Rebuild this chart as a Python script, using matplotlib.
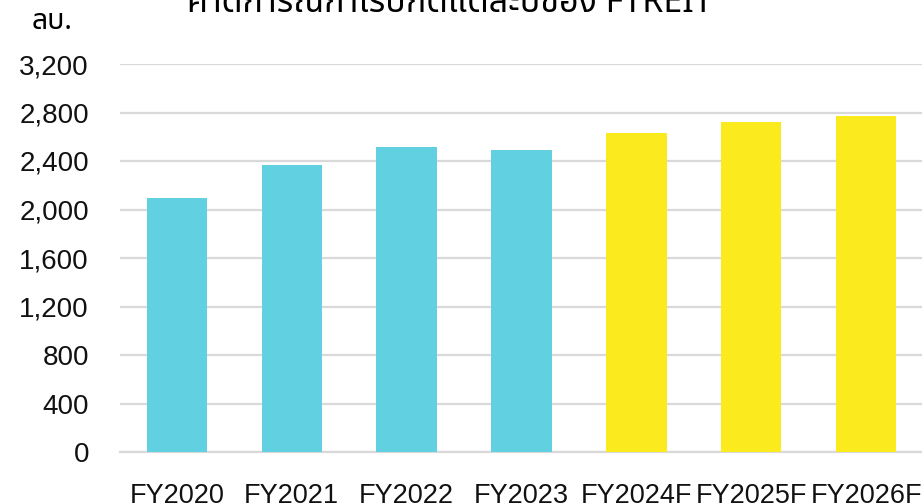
import matplotlib
matplotlib.use("Agg")
import matplotlib.pyplot as plt
from matplotlib import font_manager
from matplotlib.ft2font import FT2Font

years = ["FY2020", "FY2021", "FY2022", "FY2023", "FY2024F", "FY2025F", "FY2026F"]
profit = [2095, 2367, 2515, 2491, 2631, 2722, 2771]
is_forecast = [False, False, False, False, True, True, True]
y_ticks = [0, 400, 800, 1200, 1600, 2000, 2400, 2800, 3200]

title_text = "คาดการณ์กำไรปกติแต่ละปีของ FTREIT"
unit_text = "ลบ."

PREFERRED = ["Noto Sans Thai", "Noto Sans Thai UI", "Loma", "Garuda", "Waree",
             "Umpush", "Sawasdee", "Kinnari", "Norasi", "Laksaman"]


def find_thai_font():
    # collect installed fonts that have Thai glyphs, prefer proportional sans ones
    found = []
    for path in font_manager.findSystemFonts():
        try:
            cmap = FT2Font(path).get_charmap()
        except Exception:
            continue
        if ord("ก") in cmap and ord("ณ") in cmap:
            try:
                found.append(font_manager.FontProperties(fname=path).get_name())
            except Exception:
                continue
    for name in PREFERRED:
        if name in found:
            return name
    for name in found:
        low = name.lower()
        if "mono" not in low and "typist" not in low and "typo" not in low:
            return name
    return found[0] if found else None


thai = find_thai_font()
families = ([thai] if thai else []) + ["DejaVu Sans"]
plt.rcParams["font.family"] = families

fig = plt.figure(figsize=(9.22, 5.04), dpi=100)
ax = fig.add_axes([119.5 / 922, (504 - 452) / 504, 804 / 922, 388 / 504])

colors = ["#FAEA1E" if f else "#61D0E0" for f in is_forecast]
x = list(range(len(years)))
ax.bar(x, profit, width=0.525, color=colors, zorder=3)

ax.set_xlim(-0.5, len(years) - 0.5)
ax.set_ylim(0, 3200)
ax.set_yticks(y_ticks)
ax.set_yticklabels([f"{v:,}" for v in y_ticks], family="Liberation Sans", fontsize=20)
ax.set_xticks(x)
ax.set_xticklabels(years, fontsize=19.5, family="Liberation Sans")
ax.tick_params(axis="both", length=0, colors="#111111")
ax.tick_params(axis="x", pad=22.5)
ax.tick_params(axis="y", pad=22)

ax.grid(axis="y", color="#D9D9D9", linewidth=1.6, zorder=0)
for s in ["top", "right", "left"]:
    ax.spines[s].set_visible(False)
ax.spines["bottom"].set_color("#D9D9D9")
ax.spines["bottom"].set_linewidth(1.6)

fig.text(450 / 922, 1 - 12 / 504, title_text, ha="center", va="baseline",
         fontsize=24.5, fontweight="bold", family=families)
fig.text(32 / 922, 1 - 29 / 504, unit_text, ha="left", va="baseline",
         fontsize=20.5, family=families)

fig.savefig("out.png", dpi=100)
